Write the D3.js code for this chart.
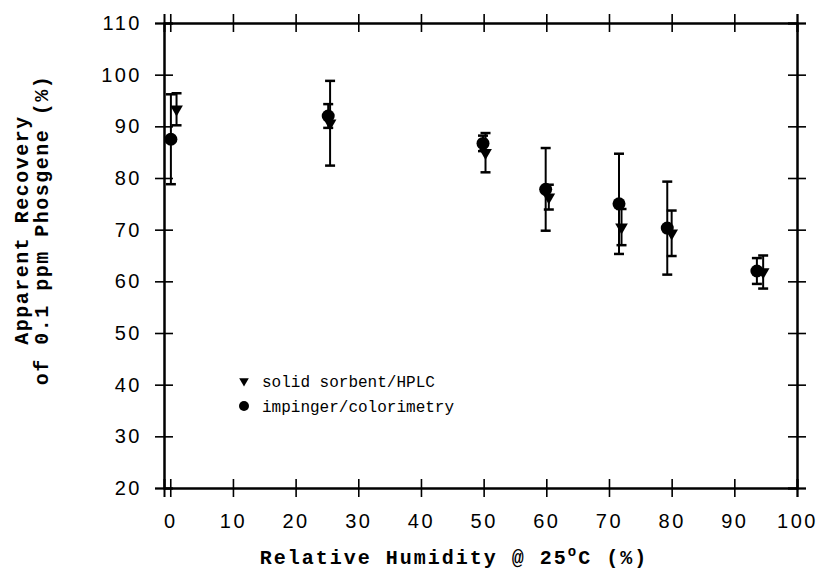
<!DOCTYPE html>
<html>
<head>
<meta charset="UTF-8">
<script src="https://d3js.org/d3.v7.min.js"></script>
<style>
  body { margin: 0; background: #fff; }
  .tick text { font-family: "Liberation Sans", Arial, sans-serif; font-size: 20px; letter-spacing: 2.5px; fill: #000; }
  .title { font-family: "Liberation Mono", "DejaVu Sans Mono", monospace; font-weight: bold; font-size: 20px; letter-spacing: 2px; fill: #000; }
  .ytitle { letter-spacing: 1.5px; }
  .legend { font-family: "Liberation Mono", "DejaVu Sans Mono", monospace; font-size: 16px; fill: #000; }
</style>
</head>
<body>
<svg id="chart" width="818" height="582"></svg>
<script>
// humidity (%) for each series
const sorbentX = [1, 25.5, 50.3, 60.4, 72, 80, 94.6];
const sorbentY = [93.3, 90.6, 84.9, 76.3, 70.5, 69.3, 61.8];
const sorbentErr = [3.1, 8.2, 3.8, 2.4, 3.5, 4.4, 3.2];

const impingerX = [0.1, 25.2, 49.9, 59.9, 71.6, 79.3, 93.6];
const impingerY = [87.5, 92.0, 86.7, 77.8, 75.0, 70.3, 62.0];
const impingerErr = [8.7, 2.3, 1.5, 8.0, 9.7, 9.0, 2.5];

const xTicks = [0, 10, 20, 30, 40, 50, 60, 70, 80, 90, 100];
const yTicks = [20, 30, 40, 50, 60, 70, 80, 90, 100, 110];

const svg = d3.select("#chart");
const x = d3.scaleLinear().domain([-1, 100]).range([164, 797]);
const y = d3.scaleLinear().domain([20, 110]).range([488, 23]);

// axes: ticks cross the frame, so draw each side twice
function side(axis, tr, size, labels) {
  const g = svg.append("g").attr("transform", tr)
    .call(axis.tickSize(size).tickPadding(labels ? 13 : 0));
  g.select(".domain").attr("stroke", "#000").attr("stroke-width", 2);
  g.selectAll(".tick line").attr("stroke", "#000").attr("stroke-width", 1.6);
  if (!labels) g.selectAll(".tick text").remove();
  return g;
}
const xa = () => d3.axisBottom(x).tickValues(xTicks).tickFormat(d3.format("d"));
const ya = () => d3.axisLeft(y).tickValues(yTicks).tickFormat(d3.format("d"));

side(xa(), `translate(0,${y(20)})`, 9, true).selectAll(".tick text").attr("dy", "0.9em");
side(xa(), `translate(0,${y(20)})`, -9, false);
side(d3.axisTop(x).tickValues(xTicks), `translate(0,${y(110)})`, 9, false);
side(d3.axisTop(x).tickValues(xTicks), `translate(0,${y(110)})`, -9, false);
side(ya(), `translate(${x(-1)},0)`, 9, true);
side(ya(), `translate(${x(-1)},0)`, -9, false);
side(d3.axisRight(y).tickValues(yTicks), `translate(${x(100)},0)`, 9, false);
side(d3.axisRight(y).tickValues(yTicks), `translate(${x(100)},0)`, -9, false);

// error bars
function errBars(xs, ys, es) {
  const g = svg.append("g").attr("stroke", "#000").attr("stroke-width", 2);
  xs.forEach((xv, i) => {
    const px = x(xv), top = y(ys[i] + es[i]), bot = y(ys[i] - es[i]);
    g.append("line").attr("x1", px).attr("x2", px).attr("y1", top).attr("y2", bot);
    g.append("line").attr("x1", px - 5).attr("x2", px + 5).attr("y1", top).attr("y2", top).attr("stroke-width", 2.5);
    g.append("line").attr("x1", px - 5).attr("x2", px + 5).attr("y1", bot).attr("y2", bot).attr("stroke-width", 2.5);
  });
}
errBars(sorbentX, sorbentY, sorbentErr);
errBars(impingerX, impingerY, impingerErr);

const tri = d3.symbol().type(d3.symbolTriangle).size(70);
svg.append("g").selectAll("path").data(sorbentX).join("path")
  .attr("d", tri)
  .attr("transform", (d, i) => `translate(${x(d)},${y(sorbentY[i])}) rotate(180)`)
  .attr("fill", "#000");

svg.append("g").selectAll("circle").data(impingerX).join("circle")
  .attr("cx", d => x(d))
  .attr("cy", (d, i) => y(impingerY[i]))
  .attr("r", 6.5)
  .attr("fill", "#000");

// legend
svg.append("path").attr("d", d3.symbol().type(d3.symbolTriangle).size(40))
  .attr("transform", "translate(244,381) rotate(180)");
svg.append("text").attr("class", "legend").attr("x", 262).attr("y", 387).text("solid sorbent/HPLC");
svg.append("circle").attr("cx", 244).attr("cy", 406).attr("r", 5);
svg.append("text").attr("class", "legend").attr("x", 262).attr("y", 412).text("impinger/colorimetry");

// titles
const xt = svg.append("text").attr("class", "title").attr("x", 454).attr("y", 564).attr("text-anchor", "middle");
xt.append("tspan").text("Relative Humidity @ 25");
xt.append("tspan").attr("dy", -8).attr("font-size", 14).text("o");
xt.append("tspan").attr("dy", 8).text("C (%)");

svg.append("text").attr("class", "title ytitle").attr("text-anchor", "middle")
  .attr("transform", "translate(28,230) rotate(-90)").text("Apparent Recovery");
svg.append("text").attr("class", "title ytitle").attr("text-anchor", "middle")
  .attr("transform", "translate(48,230) rotate(-90)").text("of 0.1 ppm Phosgene (%)");
</script>
</body>
</html>
